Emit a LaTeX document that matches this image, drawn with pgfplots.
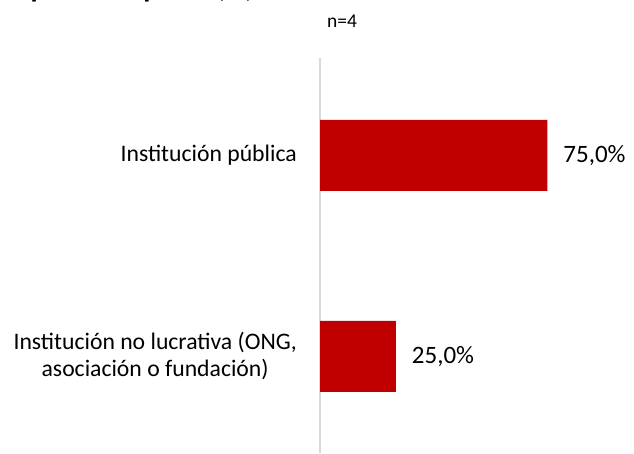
\documentclass[border=0pt]{standalone}
\usepackage{fontspec}
\setmainfont{Carlito}
\usepackage{pgfplots}
\pgfplotsset{compat=1.18}
\definecolor{barred}{HTML}{C00000}
\definecolor{axisgray}{HTML}{D9D9D9}
\begin{document}
\begin{tikzpicture}[x=1pt,y=1pt]
\begin{axis}[
  at={(320pt,0pt)}, anchor=south west,
  scale only axis, width=303pt, height=395pt,
  xbar, bar width=71pt,
  xmin=0, xmax=100, ymin=-0.48, ymax=1.484,
  axis x line=none, axis y line*=left,
  y axis line style={axisgray, line width=1.5pt, -},
  ytick={0,1},
  yticklabels={{Institución no lucrativa (ONG,\\asociación o fundación)}, Institución pública},
  major tick length=0pt,
  yticklabel style={font=\fontsize{23.7}{27}\selectfont, align=center, inner sep=0pt, xshift=-23pt},
  nodes near coords, point meta=explicit symbolic,
  every node near coord/.append style={font=\fontsize{25}{30}\selectfont, inner sep=0pt, anchor=west, xshift=16pt, black},
  clip=false,
]
\addplot[fill=barred, draw=none] coordinates {(25,0) [25,0\%] (75,1) [75,0\%]};
\end{axis}
% title is cut off at the top edge, as in the reference
\node[anchor=base west, inner sep=0pt, font=\fontsize{29}{34}\selectfont\bfseries] at (9,455) {Tipo de empresa \mdseries(\%)};
\node[inner sep=0pt, font=\fontsize{19.5}{23}\selectfont] at (342,432) {n=4};
\pgfresetboundingbox
\path[use as bounding box] (0,0) rectangle (634,453);
\end{tikzpicture}
\end{document}
